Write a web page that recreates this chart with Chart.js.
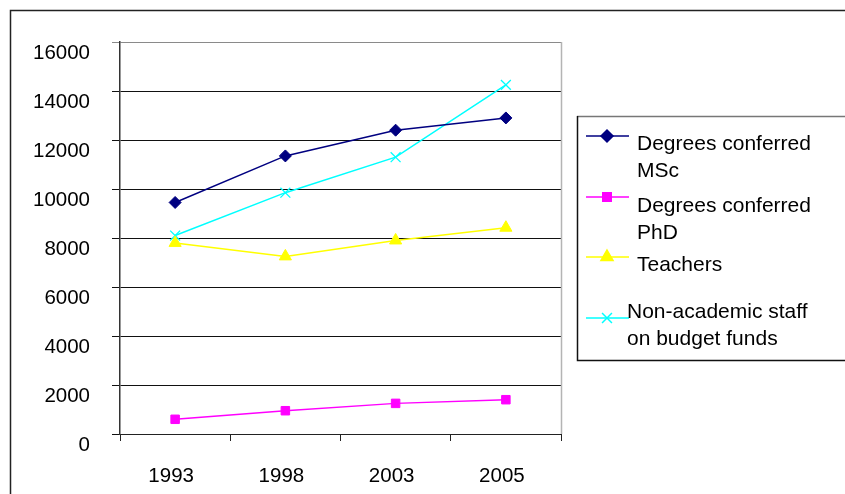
<!DOCTYPE html>
<html>
<head>
<meta charset="utf-8">
<script src="https://cdn.jsdelivr.net/npm/chart.js@4/dist/chart.umd.min.js"></script>
<style>
  html, body { margin: 0; padding: 0; background: #fff; }
  #wrap { width: 845px; height: 494px; position: relative; }
</style>
</head>
<body>
<div id="wrap"><canvas id="c" width="845" height="494"></canvas></div>
<script>
// ---- Data ----
const years = ['1993', '1998', '2003', '2005'];
const seriesNames = [
  ['Degrees conferred', 'MSc'],
  ['Degrees conferred', 'PhD'],
  ['Teachers'],
  ['Non-academic staff', 'on budget funds']
];
const mscDegrees = [9450, 11350, 12400, 12900];
const phdDegrees = [600, 950, 1250, 1400];
const teachers = [7800, 7250, 7900, 8420];
const nonAcademicStaff = [8100, 9850, 11300, 14250];
const yTicks = [0, 2000, 4000, 6000, 8000, 10000, 12000, 14000, 16000];

const FONT = '"Liberation Sans", Arial, sans-serif';

// Legend entry layout (style only)
const legendLayout = [
  { markY: 136, textX: 637, textDy: 8 },
  { markY: 197, textX: 637, textDy: 9 },
  { markY: 257, textX: 637, textDy: 8 },
  { markY: 318, textX: 627, textDy: -6 }
];

const framePlugin = {
  id: 'frame',
  beforeDraw(chart) {
    const ctx = chart.ctx;
    ctx.save();
    ctx.fillStyle = '#fff';
    ctx.fillRect(0, 0, chart.width, chart.height);
    ctx.strokeStyle = '#222';
    ctx.lineWidth = 1.5;
    ctx.strokeRect(10.5, 10.5, chart.width + 50, chart.height + 50);
    ctx.restore();
  },
  afterDatasetsDraw(chart) {
    const ctx = chart.ctx;
    const a = chart.chartArea;
    ctx.save();
    ctx.strokeStyle = '#b4b4b4';
    ctx.lineWidth = 1.5;
    ctx.beginPath();
    ctx.moveTo(Math.round(a.right) + 0.5, a.top);
    ctx.lineTo(Math.round(a.right) + 0.5, a.bottom);
    ctx.stroke();
    ctx.restore();
  },
  afterDraw(chart) {
    const ctx = chart.ctx;
    const left = 577, top = 116, bottom = 360;
    ctx.save();
    ctx.fillStyle = '#fff';
    ctx.fillRect(left, top, chart.width, bottom - top);
    ctx.lineWidth = 1.5;
    ctx.strokeStyle = '#777';
    ctx.beginPath();
    ctx.moveTo(left, top + 0.5); ctx.lineTo(chart.width + 5, top + 0.5);
    ctx.stroke();
    ctx.strokeStyle = '#111';
    ctx.beginPath();
    ctx.moveTo(left + 0.5, top); ctx.lineTo(left + 0.5, bottom + 0.5);
    ctx.lineTo(chart.width + 5, bottom + 0.5);
    ctx.stroke();

    chart.data.datasets.forEach((ds, i) => {
      const L = legendLayout[i];
      const y = L.markY;
      ctx.strokeStyle = ds.borderColor;
      ctx.lineWidth = 1.5;
      ctx.beginPath();
      ctx.moveTo(586, y); ctx.lineTo(629, y);
      ctx.stroke();
      ctx.fillStyle = ds.pointBackgroundColor;
      ctx.strokeStyle = ds.pointBorderColor;
      Chart.helpers.drawPoint(ctx, {
        pointStyle: ds.pointStyle, rotation: 0,
        radius: ds.pointRadius, borderWidth: ds.pointBorderWidth
      }, 607, y);
      ctx.fillStyle = '#000';
      ctx.font = '21px ' + FONT;
      ctx.textAlign = 'left';
      ctx.textBaseline = 'middle';
      const lines = Array.isArray(ds.label) ? ds.label : [ds.label];
      lines.forEach((t, k) => {
        ctx.fillText(t, L.textX, y + L.textDy + k * 27);
      });
    });
    ctx.restore();
  }
};

function mkDataset(label, data, color, style, radius, bw, fill) {
  return {
    label: label,
    data: data,
    borderColor: color,
    backgroundColor: color,
    borderWidth: 1.5,
    pointStyle: style,
    pointRadius: radius,
    pointHoverRadius: radius,
    pointBackgroundColor: fill,
    pointBorderColor: color,
    pointBorderWidth: bw,
    tension: 0,
    fill: false
  };
}

new Chart(document.getElementById('c'), {
  type: 'line',
  data: {
    labels: years,
    datasets: [
      mkDataset(seriesNames[0], mscDegrees, '#000080', 'rectRot', 6, 1, '#000080'),
      mkDataset(seriesNames[1], phdDegrees, '#ff00ff', 'rect', 6, 1, '#ff00ff'),
      mkDataset(seriesNames[2], teachers, '#ffff00', 'triangle', 7, 1, '#ffff00'),
      mkDataset(seriesNames[3], nonAcademicStaff, '#00ffff', 'crossRot', 7, 1.3, '#00ffff')
    ]
  },
  options: {
    responsive: false,
    animation: false,
    devicePixelRatio: 1,
    layout: { padding: { left: 0, right: 284, top: 42, bottom: 0 } },
    plugins: { legend: { display: false }, tooltip: { enabled: false } },
    scales: {
      x: {
        type: 'category',
        offset: true,
        afterFit(s) { s.height = 60; },
        grid: {
          offset: true,
          drawOnChartArea: false,
          drawTicks: true,
          tickLength: 7,
          color: '#222',
          lineWidth: 1
        },
        border: { display: true, color: '#222', width: 1 },
        ticks: {
          color: '#000',
          font: { family: FONT, size: 20.5 },
          padding: 23,
          labelOffset: -4,
          maxRotation: 0,
          autoSkip: false
        }
      },
      y: {
        min: yTicks[0],
        max: yTicks[yTicks.length - 1],
        afterFit(s) { s.width = 120; },
        afterBuildTicks(s) { s.ticks = yTicks.map(v => ({ value: v })); },
        grid: {
          drawTicks: true,
          tickLength: 8,
          color: ctx => (ctx.tick && ctx.tick.value === 16000) ? '#8a8a8a' : '#111',
          lineWidth: 1
        },
        border: { display: true, color: '#333', width: 1.5 },
        ticks: {
          color: '#000',
          font: { family: FONT, size: 20.5 },
          padding: 22,
          labelOffset: 11,
          callback: v => String(v)
        }
      }
    }
  },
  plugins: [framePlugin]
});
</script>
</body>
</html>
